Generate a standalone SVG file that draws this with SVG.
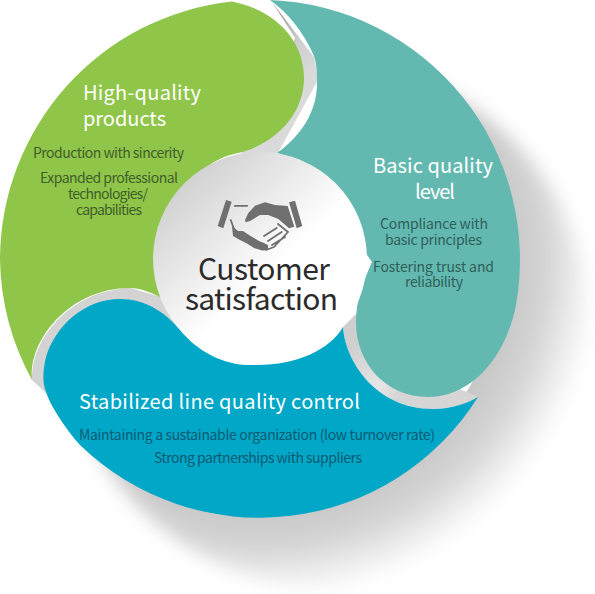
<svg xmlns="http://www.w3.org/2000/svg" width="595" height="594" viewBox="0 0 595 594">
<style>
text{font-family:"Noto Sans CJK KR","Noto Sans",sans-serif}
.h{font-size:20px;fill:#fff}
.sg{font-size:14px;fill:#3f5f2a}
.st{font-size:14px;fill:#2f5f5a}
.sb{font-size:14px;fill:#0c5b74}
.c{font-size:30px;fill:#2b2b2b}
.ic{fill:#6f6f6f}
.fs{fill:none;stroke:#6f6f6f;stroke-width:1.800;stroke-linecap:round;stroke-linejoin:round}
</style>
<defs>
<radialGradient id="sh" gradientUnits="userSpaceOnUse" cx="260" cy="260" r="340">
<stop offset="0.72" stop-color="#c6c6c6"/>
<stop offset="0.84" stop-color="#d4d4d4"/>
<stop offset="1" stop-color="#fff"/>
</radialGradient>
<linearGradient id="in" gradientUnits="userSpaceOnUse" x1="185" y1="175" x2="320" y2="320">
<stop offset="0" stop-color="#d0d0d0"/>
<stop offset="0.65" stop-color="#fff"/>
</linearGradient>
<linearGradient id="lite" gradientUnits="userSpaceOnUse" x1="350" y1="350" x2="420" y2="410">
<stop offset="0" stop-color="#cfcfcf"/>
<stop offset="0.5" stop-color="#e6e6e6"/>
<stop offset="0.72" stop-color="#d6d6d6"/>
</linearGradient>
<linearGradient id="top" gradientUnits="userSpaceOnUse" x1="280" y1="15" x2="310" y2="75">
<stop offset="0" stop-color="#a8a8a8"/>
<stop offset="0.5" stop-color="#cfcfcf"/>
<stop offset="1" stop-color="#dadada"/>
</linearGradient>
<filter id="soft" x="-20%" y="-20%" width="140%" height="140%"><feGaussianBlur stdDeviation="9"/></filter>
</defs>
<g id="shadow">
<circle cx="328" cy="326" r="262" fill="url(#sh)" filter="url(#soft)"/>
<circle cx="260" cy="260" r="245" fill="#fff"/>
</g>
<g id="bands">
<path fill="url(#top)" d="M272 2Q292 28 314 57L318 80L278 153L240 156L295 38Z"/>
<path fill="#d3d3d3" d="M32 380C30 340 70 290 130 288L165 298L180 335L60 400L46 393Z"/>
<path d="M343 327C345 360 375 409 433 409C452 409 468 403 478 397L440 380L370 300Z" fill="url(#lite)"/>
</g>
<g id="node-products">
<path d="M32 380A260 260 0 0 1 0 260A260 260 0 0 1 232 1.500C275 10 304 40 304 78C304 118 270 146 238 153C200 160 160 200 160 297C150 292 140 288 130 288C70 288 28 340 32 380Z" fill="#8fc549"/>
<text class="h" x="83" y="100" textLength="118">High-quality</text>
<text class="h" x="83" y="126" textLength="83">products</text>
<text class="sg" x="33" y="158" textLength="151">Production with sincerity</text>
<text class="sg" x="40" y="183" textLength="138">Expanded professional</text>
<text class="sg" x="68" y="199" textLength="80">technologies/</text>
<text class="sg" x="76" y="215" textLength="66">capabilities</text>
</g>
<g id="node-basic">
<path d="M270 0A260 260 0 0 1 516 305C505 360 470 397 428 397C385 397 356 362 356 323C356 300 362 285 372 262L300 160L277 153C302 135 318 110 317 80C317 70 316 62 314 56Q298 20 270 0Z" fill="#63b9b0"/>
<text class="h" x="373" y="173" textLength="120">Basic quality</text>
<text class="h" x="415" y="199" textLength="40">level</text>
<text class="st" x="380" y="229" textLength="108">Compliance with</text>
<text class="st" x="385" y="245" textLength="97">basic principles</text>
<text class="st" x="373" y="272" textLength="121">Fostering trust and</text>
<text class="st" x="405" y="287" textLength="58">reliability</text>
</g>
<g id="node-center">
<circle cx="260" cy="259" r="107" fill="url(#in)"/>
</g>
<g id="node-stabilized">
<path d="M478 397A258 258 0 0 1 80 445C65 428 50 405 46 392C42 382 43 370 46 357C56 325 85 299 120 299C145 299 165 312 180 330C198 352 225 366 253 365C295 366 330 350 343 327C345 360 375 409 433 409C452 409 468 403 478 397Z" fill="#00a7c7"/>
<text class="h" x="79" y="409" textLength="281">Stabilized line quality control</text>
<text class="sb" x="79" y="440" textLength="356">Maintaining a sustainable organization (low turnover rate)</text>
<text class="sb" x="154" y="463" textLength="208">Strong partnerships with suppliers</text>
</g>
<g id="node-center-label">
<path class="ic" d="M226 200L231.700 201.700L223.300 228.300L217.700 226Z"/>
<path class="ic" d="M289 202.300L295 200.700L302.300 226L296.700 228.300Z"/>
<path class="ic" d="M234.300 205L248.300 205L247.500 206.800L233.800 206.800Z"/>
<path class="ic" d="M245 220L248.300 213L255 205.700L265 202.300L275 205L287.700 206L294.300 226.700L289 228.300L278.300 219L268.300 215L260 215L250 221L245.700 222.300Z"/>
<path class="fs" d="M230.700 220L234 229M278 224L288 232L274 247L266 250M264 236L276.700 228M268 241L281.700 232M272 245L285 237"/>
<path class="ic" d="M232 226L238 231L243 231L249 235L254 238L259 241L264 243L268 245L268 250L262 250.500L254 248L247 243.500L240 240L233 236Z"/>
<text class="c" x="198" y="280" textLength="132">Customer</text>
<text class="c" x="185" y="310" textLength="153">satisfaction</text>
</g>
</svg>
